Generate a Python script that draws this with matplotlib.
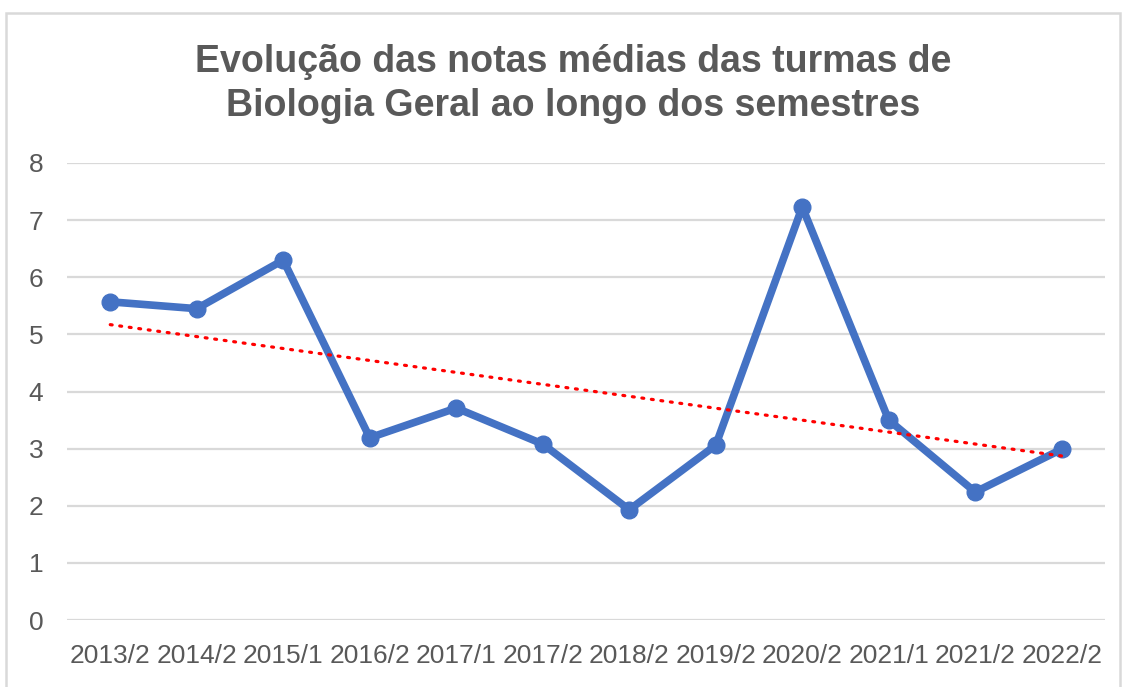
import numpy as np
import matplotlib

matplotlib.use("Agg")
import matplotlib.pyplot as plt
from matplotlib.patches import Rectangle

semestres = ["2013/2", "2014/2", "2015/1", "2016/2", "2017/1", "2017/2",
             "2018/2", "2019/2", "2020/2", "2021/1", "2021/2", "2022/2"]
notas = [5.57, 5.45, 6.30, 3.19, 3.71, 3.08, 1.93, 3.06, 7.23, 3.50, 2.24, 2.99]
y_ticks = [0, 1, 2, 3, 4, 5, 6, 7, 8]

plt.rcParams["font.family"] = ["Liberation Sans", "DejaVu Sans"]
text_color = "#595959"

fig = plt.figure(figsize=(11.26, 6.87), dpi=100)
ax = fig.add_axes([67 / 1126, 1 - 620 / 687, 1038 / 1126, 457 / 687])

x = np.arange(len(semestres))
ax.plot(x, notas, color="#4472C4", lw=5.5, marker="o", markersize=12,
        solid_joinstyle="round", zorder=3)

# linear trendline (Excel style)
coef = np.polyfit(x, notas, 1)
ax.plot(x, np.polyval(coef, x), color="#FF0000", lw=2.3, linestyle=(0, (0.6, 2.4)),
        dash_capstyle="round", zorder=4)

ax.set_xlim(-0.5, len(semestres) - 0.5)
ax.set_ylim(0, 8)
ax.set_yticks(y_ticks)
ax.set_xticks(x)
ax.set_xticklabels(semestres)
ax.grid(axis="y", color="#D9D9D9", lw=1.6)
ax.set_axisbelow(True)
for s in ax.spines.values():
    s.set_visible(False)
ax.tick_params(axis="both", length=0, colors=text_color, labelsize=19)
ax.tick_params(axis="y", pad=17)
ax.tick_params(axis="x", pad=17)

fig.text(573 / 1126, 1 - 84 / 687,
         "Evolução das notas médias das turmas de\nBiologia Geral ao longo dos semestres",
         ha="center", va="center", fontsize=27, fontweight="bold", color=text_color,
         linespacing=1.25)

fig.patches.append(Rectangle((6 / 1126, -0.05), 1114 / 1126, 1.05 - 13 / 687,
                             transform=fig.transFigure, fill=False,
                             edgecolor="#D9D9D9", lw=1.8))

fig.savefig("out.png", dpi=100, facecolor="white")
